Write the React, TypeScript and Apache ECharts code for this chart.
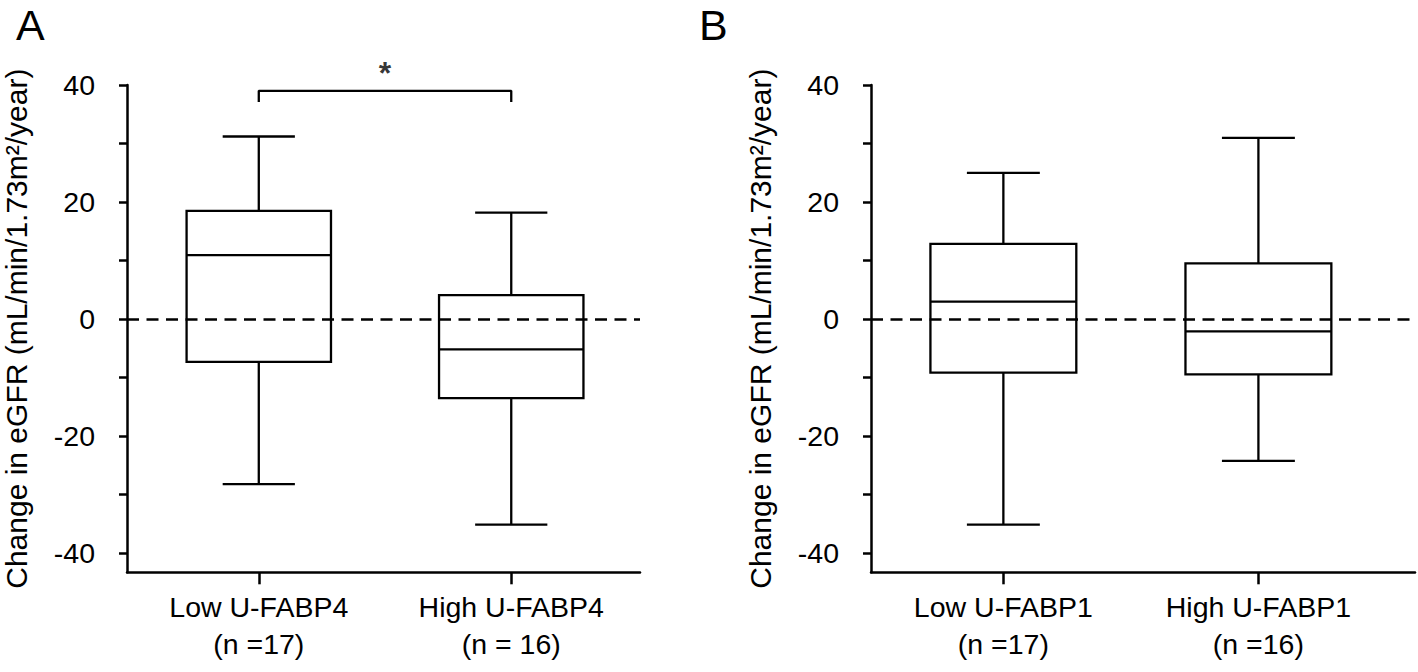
import React, { useEffect, useRef } from "react";
import * as echarts from "echarts";

// ---- data ----
const categoriesA = ["Low U-FABP4\n(n =17)", "High U-FABP4\n(n = 16)"];
const categoriesB = ["Low U-FABP1\n(n =17)", "High U-FABP1\n(n =16)"];
// [min, Q1, median, Q3, max]
const lowFabp4 = [-28.2, -7.3, 10.95, 18.5, 31.2];
const highFabp4 = [-35.1, -13.5, -5.15, 4.1, 18.2];
const lowFabp1 = [-35.1, -9.15, 2.98, 12.85, 25.0];
const highFabp1 = [-24.2, -9.43, -2.08, 9.54, 30.95];
const yTickValues = [-40, -30, -20, -10, 0, 10, 20, 30, 40];
const yLabelValues = [-40, -20, 0, 20, 40];
const bracketX = [1, 1, 2, 2];
const bracketY = [37.1, 39.0, 39.0, 37.1];
const starPoint = [1.5, 39.0];
const yTitle = "Change in eGFR (mL/min/1.73m²/year)";

const FONT = "'Liberation Sans', Arial, Helvetica, sans-serif";
const BLACK = "#000";

function boxRenderer(params: any, api: any) {
  const x = api.value(0);
  const lo = api.coord([x, api.value(1)]);
  const q1 = api.coord([x, api.value(2)]);
  const med = api.coord([x, api.value(3)]);
  const q3 = api.coord([x, api.value(4)]);
  const hi = api.coord([x, api.value(5)]);
  const bw = api.size([0.572, 0])[0];
  const cw = bw / 2;
  const cx = lo[0];
  const st = { stroke: BLACK, lineWidth: 2.3, fill: null };
  return {
    type: "group",
    children: [
      { type: "line", shape: { x1: cx, y1: hi[1], x2: cx, y2: q3[1] }, style: st },
      { type: "line", shape: { x1: cx, y1: q1[1], x2: cx, y2: lo[1] }, style: st },
      { type: "line", shape: { x1: cx - cw / 2, y1: hi[1], x2: cx + cw / 2, y2: hi[1] }, style: st },
      { type: "line", shape: { x1: cx - cw / 2, y1: lo[1], x2: cx + cw / 2, y2: lo[1] }, style: st },
      {
        type: "rect",
        shape: { x: cx - bw / 2, y: q3[1], width: bw, height: q1[1] - q3[1] },
        style: { stroke: BLACK, lineWidth: 2.3, fill: "#fff" },
      },
      { type: "line", shape: { x1: cx - bw / 2, y1: med[1], x2: cx + bw / 2, y2: med[1] }, style: st },
    ],
  };
}

function makeXAxis(gridIndex: number, cats: string[], min: number, max: number) {
  return {
    type: "value",
    gridIndex,
    min,
    max,
    splitLine: { show: false },
    axisLine: { show: true, onZero: false, lineStyle: { color: BLACK, width: 2.5 } },
    axisTick: { show: true, customValues: [1, 2], length: 12, lineStyle: { color: BLACK, width: 2.5 } },
    axisLabel: {
      show: true,
      customValues: [1, 2],
      formatter: (v: number) => cats[Math.round(v) - 1] || "",
      color: BLACK,
      fontFamily: FONT,
      fontSize: 28.5,
      lineHeight: 37,
      margin: 16,
    },
  };
}

function makeYAxis(gridIndex: number) {
  return {
    type: "value",
    gridIndex,
    min: -43.25,
    max: 40,
    name: yTitle,
    nameLocation: "middle",
    nameGap: 96,
    nameTextStyle: { color: BLACK, fontFamily: FONT, fontSize: 30 },
    splitLine: { show: false },
    axisLine: { show: true, onZero: false, lineStyle: { color: BLACK, width: 2.5 } },
    axisTick: { show: true, customValues: yTickValues, length: 8, lineStyle: { color: BLACK, width: 2.5 } },
    axisLabel: {
      show: true,
      customValues: yLabelValues,
      color: BLACK,
      fontFamily: FONT,
      fontSize: 28.5,
      margin: 32,
    },
  };
}

function zeroLine(idx: number) {
  return {
    type: "line",
    xAxisIndex: idx,
    yAxisIndex: idx,
    data: [],
    z: 1,
    silent: true,
    markLine: {
      silent: true,
      symbol: "none",
      label: { show: false },
      lineStyle: { color: BLACK, width: 2.5, type: [12, 7.5] },
      data: [{ yAxis: 0 }],
    },
  };
}

export default function App() {
  const ref = useRef<HTMLDivElement>(null);
  useEffect(() => {
    if (!ref.current) return;
    const chart = echarts.init(ref.current, undefined, { renderer: "svg" });
    const option: any = {
      animation: false,
      backgroundColor: "#fff",
      textStyle: { fontFamily: FONT },
      title: [
        { text: "A", left: 16, top: 3, padding: 0, textStyle: { fontSize: 43, lineHeight: 43, fontWeight: "normal", color: BLACK, fontFamily: FONT } },
        { text: "B", left: 699, top: 3, padding: 0, textStyle: { fontSize: 43, lineHeight: 43, fontWeight: "normal", color: BLACK, fontFamily: FONT } },
      ],
      grid: [
        { left: 125, top: 85, width: 515, height: 487.3, containLabel: false },
        { left: 871, top: 85, width: 544, height: 487.3, containLabel: false },
      ],
      xAxis: [makeXAxis(0, categoriesA, 0.478, 2.51), makeXAxis(1, categoriesB, 0.481, 2.614)],
      yAxis: [makeYAxis(0), makeYAxis(1)],
      series: [
        zeroLine(0),
        zeroLine(1),
        {
          type: "custom",
          xAxisIndex: 0,
          yAxisIndex: 0,
          z: 3,
          renderItem: boxRenderer,
          encode: { x: 0, y: [1, 2, 3, 4, 5] },
          data: [
            [1, ...lowFabp4],
            [2, ...highFabp4],
          ],
        },
        {
          type: "custom",
          xAxisIndex: 1,
          yAxisIndex: 1,
          z: 3,
          renderItem: boxRenderer,
          encode: { x: 0, y: [1, 2, 3, 4, 5] },
          data: [
            [1, ...lowFabp1],
            [2, ...highFabp1],
          ],
        },
        {
          type: "line",
          xAxisIndex: 0,
          yAxisIndex: 0,
          symbol: "none",
          z: 4,
          lineStyle: { color: BLACK, width: 2.3 },
          data: bracketX.map((x, i) => [x, bracketY[i]]),
        },
        {
          type: "scatter",
          xAxisIndex: 0,
          yAxisIndex: 0,
          symbolSize: 0,
          z: 4,
          label: {
            show: true,
            position: "top",
            distance: 2,
            formatter: "*",
            color: BLACK,
            fontFamily: FONT,
            fontSize: 32,
            fontWeight: "bold",
          },
          data: [starPoint],
        },
      ],
    };
    chart.setOption(option);
    return () => chart.dispose();
  }, []);
  return (
    <div
      ref={ref}
      style={{ position: "fixed", left: 0, top: 0, width: 1418, height: 672, background: "#fff" }}
    />
  );
}
